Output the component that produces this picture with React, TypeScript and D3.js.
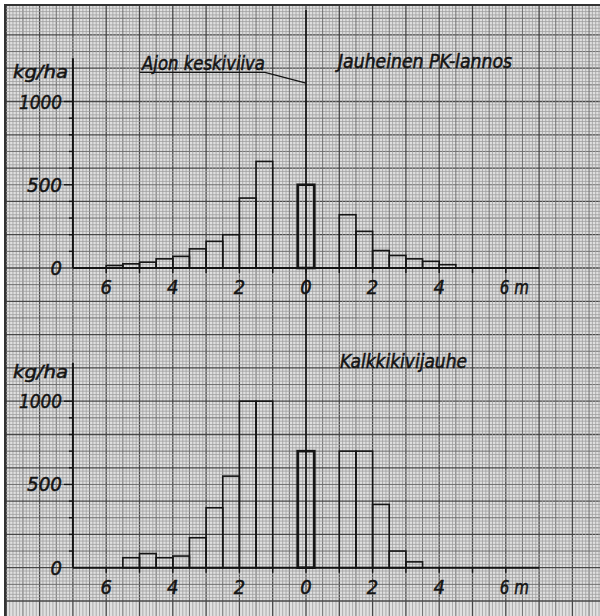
import { useEffect, useRef } from 'react';
import * as d3 from 'd3';

// bins are 0.5 m wide, value = start of bin (m from the driving centre line)
const leftBins = [-6, -5.5, -5, -4.5, -4, -3.5, -3, -2.5, -2, -1.5];
const centreBin = -0.25;
const rightBins = [1, 1.5, 2, 2.5, 3, 3.5, 4];
const binWidth = 0.5;

// Jauheinen PK-lannos, kg/ha
const pkLeft = [15, 25, 35, 55, 70, 115, 160, 200, 420, 640];
const pkCentre = 500;
const pkRight = [320, 220, 105, 75, 55, 40, 20];

// Kalkkikivijauhe, kg/ha
const limeLeft = [0, 60, 85, 60, 70, 180, 360, 550, 1000, 1000];
const limeCentre = 700;
const limeRight = [700, 700, 380, 100, 35, 0, 0];

const xTicks = [-6, -5, -4, -3, -2, -1, 0, 1, 2, 3, 4, 5, 6];
const xLabels = [-6, -4, -2, 0, 2, 4, 6];
const yTicks = [100, 200, 300, 400, 500, 600, 700, 800, 900, 1000];
const yLabels = ['0', '500', '1000'];

const W = 600;
const H = 616;
const CM = 33.3; // one square of the graph paper
const X0 = 306;
const Y0 = 268;
const INK = '#141414';
const FONT = "'DejaVu Sans', 'Liberation Sans', sans-serif";

export default function App() {
  const ref = useRef<SVGSVGElement | null>(null);

  useEffect(() => {
    if (!ref.current) return;
    const svg = d3.select(ref.current);
    svg.selectAll('*').remove();

    const x = d3.scaleLinear().domain([-7, 7]).range([X0 - 7 * CM, X0 + 7 * CM]);
    const yTop = d3.scaleLinear().domain([0, 1000]).range([Y0, Y0 - 5 * CM]);
    const yBot = d3.scaleLinear().domain([0, 1000]).range([Y0 + 9 * CM, Y0 + 4 * CM]);

    svg.append('rect').attr('width', W).attr('height', H).attr('fill', '#fff');

    // graph paper
    const paper = svg.append('g');
    paper.append('rect').attr('x', 5).attr('y', 5).attr('width', W - 5).attr('height', H - 5).attr('fill', '#e0e0e0');
    const step = CM / 10;
    const kind = (i: number) => (i % 10 === 0 ? 2 : i % 5 === 0 ? 1 : 0);
    const stroke = ['#9e9e9e', '#6e6e6e', '#474747'];
    const sw = [0.8, 1, 1.3];
    for (let i = -100; i <= 100; i++) {
      const px = X0 + i * step;
      if (px >= 5 && px <= W) {
        const k = kind(Math.abs(i));
        paper.append('line').attr('x1', px).attr('x2', px).attr('y1', 5).attr('y2', H)
          .attr('stroke', stroke[k]).attr('stroke-width', sw[k]);
      }
      const py = Y0 + i * step;
      if (py >= 5 && py <= H) {
        const k = kind(Math.abs(i));
        paper.append('line').attr('y1', py).attr('y2', py).attr('x1', 5).attr('x2', W)
          .attr('stroke', stroke[k]).attr('stroke-width', sw[k]);
      }
    }
    // edge of the sheet
    paper.append('path').attr('d', `M5,${H} V5 H${W}`).attr('fill', 'none').attr('stroke', '#333').attr('stroke-width', 2);

    const txt = (g: any, s: string, tx: number, ty: number, size: number, len?: number, anchor = 'start') => {
      const t = g.append('text')
        .attr('x', tx).attr('y', ty)
        .attr('font-family', FONT)
        .attr('font-style', 'italic')
        .attr('font-stretch', 'condensed')
        .attr('font-size', size)
        .attr('fill', INK)
        .attr('stroke', INK)
        .attr('stroke-width', 0.5)
        .attr('text-anchor', anchor)
        .text(s);
      if (len) t.attr('textLength', len).attr('lengthAdjust', 'spacingAndGlyphs');
      return t;
    };

    const drawPanel = (y: d3.ScaleLinear<number, number>, left: number[], centre: number, right: number[], title: string, titleX: number, titleLen: number, axisTop: number) => {
      const g = svg.append('g');

      const bars = [
        ...leftBins.map((b, i) => ({ b, v: left[i] })),
        ...rightBins.map((b, i) => ({ b, v: right[i] })),
      ].filter(d => d.v > 0);

      g.selectAll('.bar').data(bars).enter().append('rect')
        .attr('x', d => x(d.b))
        .attr('y', d => y(d.v))
        .attr('width', x(binWidth) - x(0))
        .attr('height', d => y(0) - y(d.v))
        .attr('fill', 'none')
        .attr('stroke', INK)
        .attr('stroke-width', 1.6);

      g.append('rect')
        .attr('x', x(centreBin))
        .attr('y', y(centre))
        .attr('width', x(binWidth) - x(0))
        .attr('height', y(0) - y(centre))
        .attr('fill', 'none')
        .attr('stroke', INK)
        .attr('stroke-width', 2.6);

      // x axis
      g.append('line').attr('x1', x(-7)).attr('x2', x(7)).attr('y1', y(0)).attr('y2', y(0))
        .attr('stroke', INK).attr('stroke-width', 2);
      g.selectAll('.xt').data(xTicks).enter().append('line')
        .attr('x1', d => x(d)).attr('x2', d => x(d)).attr('y1', y(0)).attr('y2', y(0) + 5)
        .attr('stroke', INK).attr('stroke-width', 1.4);
      xLabels.forEach(d => {
        if (d === 6) txt(g, '6 m', x(d) - 6, y(0) + 26, 20, 29);
        else txt(g, String(Math.abs(d)), x(d), y(0) + 26, 20, undefined, 'middle');
      });

      // y axis
      g.append('line').attr('x1', x(-7)).attr('x2', x(-7)).attr('y1', y(0)).attr('y2', y(axisTop))
        .attr('stroke', INK).attr('stroke-width', 2);
      g.selectAll('.yt').data(yTicks).enter().append('line')
        .attr('x1', x(-7)).attr('x2', d => x(-7) - (d % 500 === 0 ? 9 : 4))
        .attr('y1', d => y(d)).attr('y2', d => y(d))
        .attr('stroke', INK).attr('stroke-width', 1.4);
      yLabels.forEach(l => {
        const len = l.length === 4 ? 43 : l.length === 3 ? 35 : undefined;
        txt(g, l, 62, y(+l) + 7, 20, len, 'end');
      });
      txt(g, 'kg/ha', 13, y(1140), 18, 55);

      txt(g, title, titleX, y(1200), 19, titleLen);
    };

    drawPanel(yTop, pkLeft, pkCentre, pkRight, 'Jauheinen PK-lannos', 338, 174, 1260);
    drawPanel(yBot, limeLeft, limeCentre, limeRight, 'Kalkkikivijauhe', 340, 127, 1230);

    // driving centre line and its label
    svg.append('line').attr('x1', x(0)).attr('x2', x(0)).attr('y1', 10).attr('y2', yBot(0))
      .attr('stroke', INK).attr('stroke-width', 1.6);
    txt(svg, 'Ajon keskiviiva', 142, yTop(1192), 19, 123);
    svg.append('path')
      .attr('d', `M${x(-5.0)},${yTop(1175)} H${x(-1.23)} L${x(0)},${yTop(1110)}`)
      .attr('fill', 'none').attr('stroke', INK).attr('stroke-width', 1.4);
  }, []);

  return (
    <>
      <style>{'body{margin:0}'}</style>
      <svg ref={ref} width={W} height={H} style={{ display: 'block' }} />
    </>
  );
}
